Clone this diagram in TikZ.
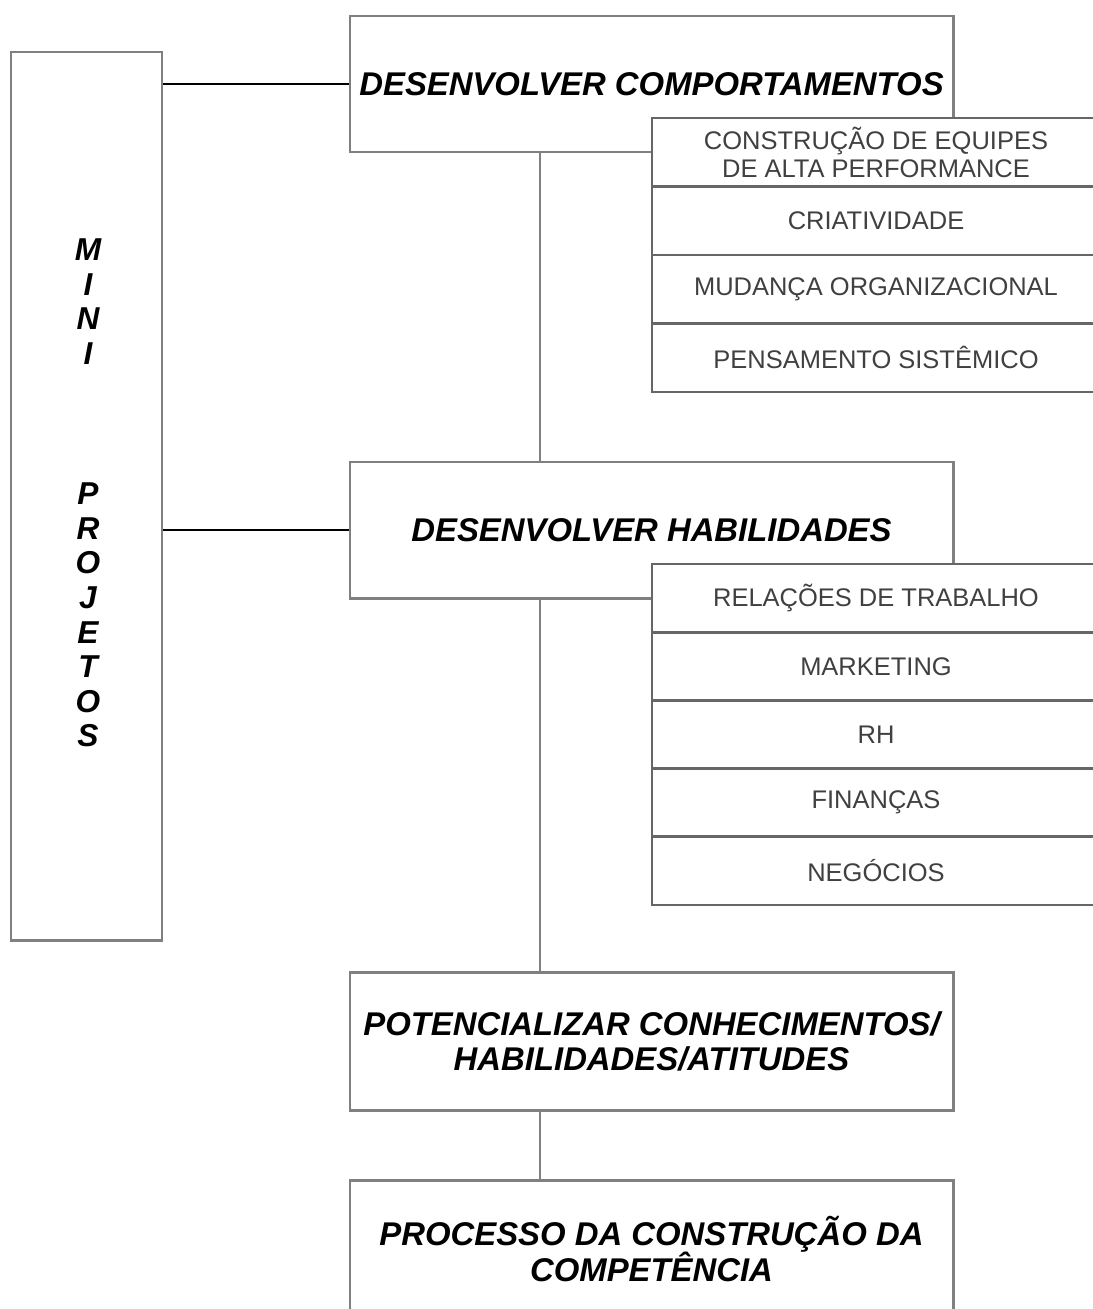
\documentclass[tikz,border=0pt]{standalone}
\usepackage{fontspec}
\setmainfont{Liberation Sans}
\usetikzlibrary{calc, positioning}

\newcommand\tightlines{\lineskiplimit=-20pt\relax}

\tikzset{
  mainbox/.style={draw=gray, line width=1.7pt, fill=white, inner sep=0pt,
    minimum width=12.06cm, minimum height=2.72cm, align=center,
    font=\bfseries\itshape\fontsize{18.7}{20}\selectfont\tightlines},
  itembox/.style={draw=black!60, line width=1.6pt, fill=white, inner sep=0pt,
    outer sep=0pt, minimum width=8.96cm, minimum height=1.37cm, align=center,
    text=black!75, font=\fontsize{14.5}{16}\selectfont},
  link/.style={line width=1.2pt},
  vletters/.style={align=center, font=\bfseries\itshape\fontsize{18}{19.7}\selectfont}
}

\begin{document}
\begin{tikzpicture}
\useasboundingbox[fill=white] (0,0) rectangle (21.86,-26.18);

\coordinate (spine) at (10.8,0);

% left column
\node[draw=gray, line width=1.7pt, minimum width=3.02cm, minimum height=17.76cm] (mini) at (1.73,-9.92) {};
\node[vletters] (miniTxt) at (1.76,-6.03) {M\\I\\N\\I};
\node[vletters] (projTxt) at (1.76,-12.3) {P\\R\\O\\J\\E\\T\\O\\S};

% main boxes
\node[mainbox] (comport) at (13.03,-1.68) {DESENVOLVER COMPORTAMENTOS};
\node[mainbox] (habil) at (13.03,-10.6) {DESENVOLVER HABILIDADES};
\node[mainbox, minimum height=2.76cm] (potenc) at (13.03,-20.82) {POTENCIALIZAR CONHECIMENTOS/\\HABILIDADES/ATITUDES};
\node[mainbox, minimum height=2.76cm] (processo) at (13.03,-24.98) {PROCESSO DA CONSTRUÇÃO DA\\COMPETÊNCIA};

% first list
\node[itembox, anchor=north west] (c1) at (13.04,-2.36) {CONSTRUÇÃO DE EQUIPES\\DE ALTA PERFORMANCE};
\node[itembox, below=0pt of c1] (c2) {CRIATIVIDADE};
\node[itembox, below=0pt of c2] (c3) {MUDANÇA ORGANIZACIONAL};
\node[itembox, below=0pt of c3] (c4) {PENSAMENTO SISTÊMICO};

% second list
\node[itembox, minimum height=1.364cm, anchor=north west] (h1) at (13.04,-11.28) {RELAÇÕES DE TRABALHO};
\node[itembox, minimum height=1.364cm, below=0pt of h1] (h2) {MARKETING};
\node[itembox, minimum height=1.364cm, below=0pt of h2] (h3) {RH};
\node[itembox, minimum height=1.364cm, below=0pt of h3] (h4) {FINANÇAS};
\node[itembox, minimum height=1.364cm, below=0pt of h4] (h5) {NEGÓCIOS};

% connectors
\draw[link] (mini.east |- comport.west) -- (comport.west);
\draw[link] (mini.east |- habil.west) -- (habil.west);
\draw[link, draw=gray] (comport.south -| spine) -- (habil.north -| spine);
\draw[link, draw=gray] (habil.south -| spine) -- (potenc.north -| spine);
\draw[link, draw=gray] (potenc.south -| spine) -- (processo.north -| spine);
\end{tikzpicture}
\end{document}
